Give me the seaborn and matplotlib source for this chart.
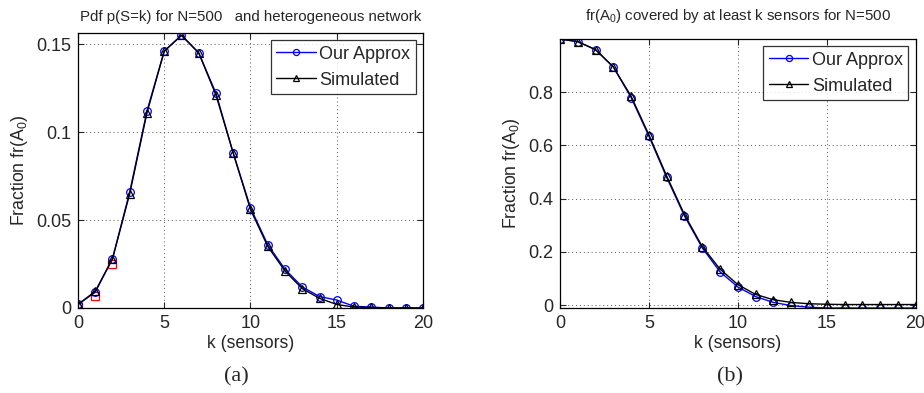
import matplotlib.pyplot as plt
import seaborn as sns
import pandas as pd

# k values (sensors)
k = list(range(21))

# (a) pdf p(S=k)
pdf_approx = [0.002, 0.009, 0.028, 0.066, 0.112, 0.146, 0.155, 0.145, 0.122, 0.088,
              0.057, 0.036, 0.022, 0.012, 0.0065, 0.0045, 0.001, 0.0005, 0.0, 0.0, 0.0]
pdf_sim = [0.002, 0.0095, 0.028, 0.065, 0.111, 0.146, 0.155, 0.145, 0.121, 0.088,
           0.056, 0.035, 0.021, 0.011, 0.0055, 0.002, 0.0005, 0.0003, 0.0, 0.0, 0.0]
k_red = [0, 1, 2]
pdf_red = [0.0005, 0.007, 0.025]

# (b) fraction covered by at least k sensors
cov_approx = [1.0, 0.99, 0.96, 0.895, 0.78, 0.635, 0.48, 0.335, 0.215, 0.125,
              0.068, 0.032, 0.01, -0.002, -0.008, -0.011, -0.011, -0.011, -0.011, -0.011, -0.011]
cov_sim = [1.0, 0.99, 0.96, 0.895, 0.785, 0.64, 0.485, 0.34, 0.22, 0.135,
           0.077, 0.04, 0.02, 0.01, 0.005, 0.003, 0.002, 0.002, 0.002, 0.002, 0.002]

df_a = pd.DataFrame({'k': k, 'approx': pdf_approx, 'sim': pdf_sim})
df_b = pd.DataFrame({'k': k, 'approx': cov_approx, 'sim': cov_sim})
df_red = pd.DataFrame({'k': k_red, 'val': pdf_red})

sns.set_style('ticks')
plt.rcParams['font.family'] = ['Liberation Sans', 'DejaVu Sans']
plt.rcParams['mathtext.fontset'] = 'custom'
plt.rcParams['mathtext.rm'] = 'Liberation Sans'
plt.rcParams['mathtext.it'] = 'Liberation Sans'

fig = plt.figure(figsize=(9.24, 3.93), dpi=100)
ax1 = fig.add_axes([0.0844, 0.2163, 0.3734, 0.6997])
ax2 = fig.add_axes([0.606, 0.2163, 0.385, 0.6845])

mk = dict(markerfacecolor='none', markersize=5.5, markeredgewidth=0.9, linewidth=1.0)

# (a)
sns.lineplot(data=df_red, x='k', y='val', ax=ax1, color='red', marker='s',
             linestyle='none', markeredgecolor='red', **mk)
sns.lineplot(data=df_a, x='k', y='approx', ax=ax1, color='blue', marker='o',
             markeredgecolor='blue', label='Our Approx', **mk)
sns.lineplot(data=df_a, x='k', y='sim', ax=ax1, color='black', marker='^',
             markeredgecolor='black', label='Simulated', **mk)
ax1.set_xlim(0, 20)
ax1.set_ylim(0, 0.1563)
ax1.set_yticks([0, 0.05, 0.1, 0.15])
ax1.set_yticklabels(['0', '0.05', '0.1', '0.15'])
ax1.set_title('Pdf p(S=k) for N=500   and heterogeneous network', fontsize=10.8, pad=9)

# (b)
sns.lineplot(data=df_b, x='k', y='approx', ax=ax2, color='blue', marker='o',
             markeredgecolor='blue', label='Our Approx', **mk)
sns.lineplot(data=df_b, x='k', y='sim', ax=ax2, color='black', marker='^',
             markeredgecolor='black', label='Simulated', **mk)
ax2.set_xlim(0, 20)
ax2.set_ylim(-0.011, 1.0)
ax2.set_yticks([0, 0.2, 0.4, 0.6, 0.8])
ax2.set_yticklabels(['0', '0.2', '0.4', '0.6', '0.8'])
ax2.set_title('fr(A$_0$) covered by at least k sensors for N=500', fontsize=10.8, pad=14)

for ax in (ax1, ax2):
    ax.set_xticks([0, 5, 10, 15, 20])
    ax.set_xlabel('k (sensors)', fontsize=12.7, labelpad=2)
    ax.set_ylabel('Fraction fr(A$_0$)', fontsize=12.7, labelpad=4)
    ax.grid(True, color='#555555', linestyle=(0, (1, 3)), linewidth=0.7)
    ax.tick_params(direction='in', labelsize=13, top=True, right=True, length=4, pad=5)
    for s in ax.spines.values():
        s.set_visible(True)
        s.set_color('black')
        s.set_linewidth(0.9)
    leg = ax.legend(loc='upper right', fontsize=13, frameon=True, fancybox=False,
                    edgecolor='black', borderpad=0.3, labelspacing=0.5,
                    handlelength=2.2, handletextpad=0.2, borderaxespad=0.4,
                    markerscale=0.8)
    leg.get_frame().set_linewidth(0.9)

fig.text(0.256, 0.03, '(a)', fontsize=16, ha='center', family='Liberation Serif')
fig.text(0.79, 0.03, '(b)', fontsize=16, ha='center', family='Liberation Serif')

fig.savefig('out.png', dpi=100)
